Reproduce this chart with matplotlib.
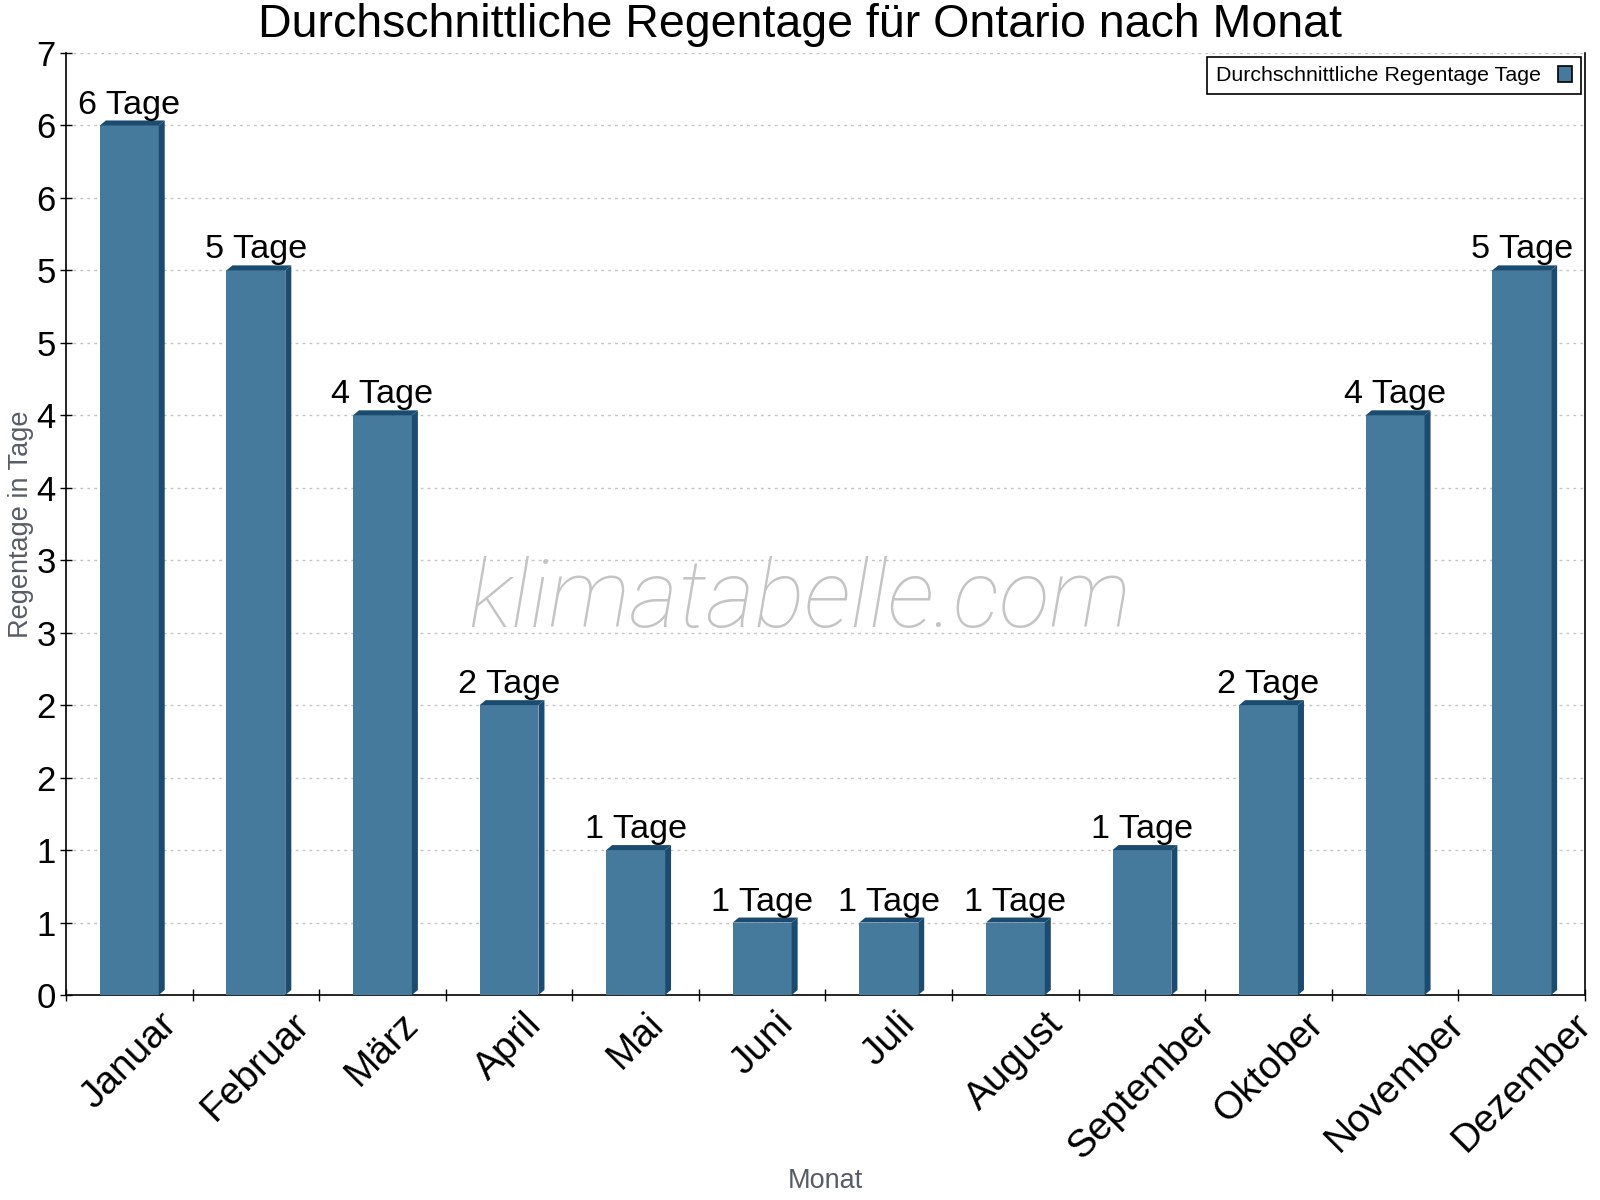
"""
Average rain days per month for Ontario, drawn as pseudo-3D bars
"""
import numpy as np
import matplotlib
matplotlib.use("Agg")
import matplotlib.pyplot as plt
from matplotlib.patches import Polygon, Patch
from matplotlib.ticker import FixedLocator, FuncFormatter

MONTHS = ["Januar", "Februar", "März", "April", "Mai", "Juni",
          "Juli", "August", "September", "Oktober", "November", "Dezember"]
RAIN_DAYS = [6, 5, 4, 2, 1, 0.5, 0.5, 0.5, 1, 2, 4, 5]
Y_TICKS = [0, 0.5, 1, 1.5, 2, 2.5, 3, 3.5, 4, 4.5, 5, 5.5, 6, 6.5]

TITLE = "Durchschnittliche Regentage für Ontario nach Monat"
LEGEND_LABEL = "Durchschnittliche Regentage Tage"

FRONT = "#467a9c"
DARK = "#1b4c6f"


def round_half_up(v):
    return int(np.floor(v + 0.5))


def main():
    plt.rcParams["font.family"] = ["Liberation Sans", "DejaVu Sans"]
    fig = plt.figure(figsize=(16, 12), dpi=100)
    ax = fig.add_axes([66 / 1600, 1 - 995 / 1200, 1519 / 1600, 942 / 1200])

    ax.set_xlim(-0.5, len(MONTHS) - 0.5)
    ax.set_ylim(0, 6.5)

    x = np.arange(len(MONTHS))
    width = 0.465
    bars = ax.bar(x, RAIN_DAYS, width=width, color=FRONT, zorder=3)

    # depth of the fake 3D faces: 6 px right, 5 px up
    p0 = ax.transData.transform((0, 0))
    inv = ax.transData.inverted()
    dx, dy = inv.transform(p0 + np.array([6, 5])) - inv.transform(p0)

    for rect, val in zip(bars, RAIN_DAYS):
        xl = rect.get_x()
        xr = xl + rect.get_width()
        h = rect.get_height()
        side = Polygon([(xr, 0), (xr + dx, dy), (xr + dx, h + dy), (xr, h)],
                       closed=True, facecolor=DARK, edgecolor="none", zorder=3)
        top = Polygon([(xl, h), (xl + dx, h + dy), (xr + dx, h + dy), (xr, h)],
                      closed=True, facecolor=DARK, edgecolor="none", zorder=3)
        ax.add_patch(side)
        ax.add_patch(top)
        ax.annotate("{} Tage".format(round_half_up(val)),
                    xy=(rect.get_x() + width / 2, h), xytext=(0, 8.6),
                    textcoords="offset points", ha="center", va="baseline",
                    fontsize=24.7, color="black", zorder=4)

    # axes, ticks and grid
    ax.spines["top"].set_visible(False)
    for side_name in ["left", "bottom", "right"]:
        ax.spines[side_name].set_color("black")
        ax.spines[side_name].set_linewidth(1.2)

    ax.yaxis.set_major_locator(FixedLocator(Y_TICKS))
    ax.yaxis.set_major_formatter(FuncFormatter(lambda v, pos: str(round_half_up(v))))
    ax.tick_params(axis="y", direction="inout", length=9, width=1, labelsize=25, pad=3)

    ax.set_xticks(x)
    ax.set_xticklabels(MONTHS, rotation=45, ha="center")
    ax.set_xticks(np.arange(-0.5, len(MONTHS), 1), minor=True)
    ax.tick_params(axis="x", which="major", length=0, labelsize=28, pad=8)
    ax.tick_params(axis="x", which="minor", direction="inout", length=9, width=1)

    ax.set_axisbelow(True)
    ax.yaxis.grid(True, linestyle=(0, (2, 3)), color="#c4c4c4", linewidth=1)

    ax.set_ylabel("Regentage in Tage", fontsize=19.5, color="#575c66")
    ax.yaxis.set_label_coords(-0.021, 0.5)
    ax.set_xlabel("Monat", fontsize=19.5, color="#575c66")
    ax.xaxis.set_label_coords(0.5, -0.184)

    handle = Patch(facecolor=FRONT, edgecolor="black", linewidth=1.2)
    leg = ax.legend([handle], [LEGEND_LABEL], loc="upper right", fontsize=15.4,
                    markerfirst=False, fancybox=False, framealpha=1,
                    edgecolor="black", handlelength=0.67, handleheight=0.8,
                    borderaxespad=0.2, handletextpad=0.8)
    leg.get_frame().set_linewidth(1.2)

    fig.text(0.5, 1 - 37 / 1200, TITLE, ha="center", va="baseline", fontsize=33.5)
    fig.text(800 / 1600, 1 - 627 / 1200, "klimatabelle.com", ha="center",
             va="baseline", fontsize=67.5, family="Roboto", style="italic",
             weight="light", color="#c4c4c4", zorder=5)

    fig.savefig("out.png", dpi=100)
    plt.close(fig)


if __name__ == "__main__":
    main()
